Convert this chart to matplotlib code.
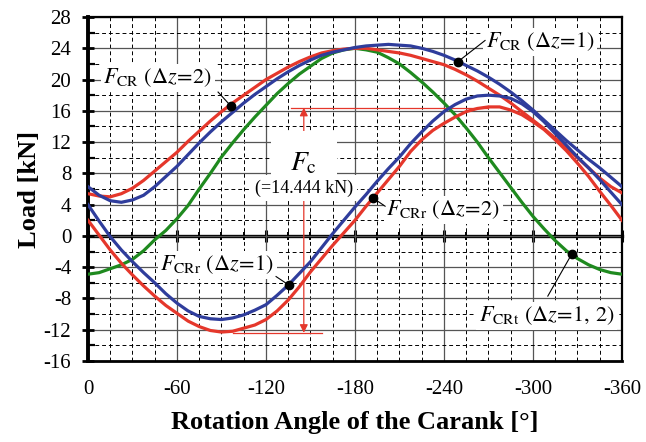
import matplotlib
matplotlib.use("Agg")
import matplotlib.pyplot as plt
from matplotlib.ticker import MultipleLocator

plt.rcParams["font.family"] = ["Liberation Serif", "DejaVu Serif"]
plt.rcParams["mathtext.fontset"] = "stix"
plt.rcParams["axes.unicode_minus"] = False

# crank angle [deg], sampled every 7.5 deg
angle = [0, -7.5, -15, -22.5, -30, -37.5, -45, -52.5, -60, -67.5, -75, -82.5,
         -90, -97.5, -105, -112.5, -120, -127.5, -135, -142.5, -150, -157.5, -165, -172.5,
         -180, -187.5, -195, -202.5, -210, -217.5, -225, -232.5, -240, -247.5, -255, -262.5,
         -270, -277.5, -285, -292.5, -300, -307.5, -315, -322.5, -330, -337.5, -345, -352.5,
         -360]

# resultant load on the crank, dz = 2 (red) and dz = 1 (blue)
f_cr_dz2 = [5.4, 5.1, 5.0, 5.4, 6.1, 7.1, 8.3, 9.5, 10.7, 12.1, 13.4, 14.7,
            15.9, 17.0, 18.0, 19.0, 20.0, 20.8, 21.6, 22.3, 22.9, 23.4, 23.7, 23.9,
            24.0, 24.0, 23.8, 23.6, 23.4, 23.1, 22.7, 22.3, 21.9, 21.3, 20.6, 19.8,
            18.9, 18.0, 17.0, 15.9, 14.8, 13.7, 12.5, 11.3, 10.0, 8.7, 7.4, 6.3,
            5.5]
f_cr_dz1 = [6.3, 5.2, 4.5, 4.3, 4.6, 5.2, 6.3, 7.6, 8.9, 10.4, 11.9, 13.3,
            14.6, 15.8, 17.0, 18.1, 19.1, 20.1, 21.0, 21.8, 22.5, 23.1, 23.5, 23.8,
            24.1, 24.3, 24.4, 24.5, 24.4, 24.3, 24.0, 23.6, 23.1, 22.5, 21.8, 21.1,
            20.3, 19.4, 18.4, 17.3, 16.1, 14.8, 13.5, 12.2, 11.0, 9.8, 8.7, 7.5,
            6.3]

# radial component
f_crr_dz2 = [2.0, 0.1, -1.8, -3.5, -5.0, -6.4, -7.7, -8.9, -9.9, -10.9, -11.6, -12.1,
             -12.3, -12.2, -11.8, -11.4, -10.7, -9.6, -8.2, -6.5, -4.6, -2.9, -1.2, 0.4,
             2.0, 3.8, 5.5, 7.2, 8.9, 10.8, 12.3, 13.5, 14.4, 15.2, 15.9, 16.3,
             16.5, 16.5, 16.1, 15.5, 14.6, 13.6, 12.3, 10.9, 9.3, 7.6, 5.7, 3.9,
             2.0]
f_crr_dz1 = [4.0, 1.9, -0.1, -1.8, -3.3, -4.7, -6.0, -7.4, -8.6, -9.6, -10.3, -10.6,
             -10.7, -10.5, -10.1, -9.5, -8.8, -7.6, -6.3, -4.8, -3.3, -1.5, 0.3, 2.0,
             3.7, 5.3, 7.0, 8.6, 10.1, 11.8, 13.3, 14.7, 15.9, 16.8, 17.5, 17.9,
             18.0, 17.9, 17.6, 16.9, 15.9, 14.6, 13.1, 11.6, 10.1, 8.7, 7.2, 5.6,
             4.0]

# tangential component (same for both dz)
f_crt = [-4.9, -4.7, -4.2, -3.7, -3.0, -1.9, -0.5, 0.7, 2.2, 3.9, 6.0, 8.0,
         10.1, 11.9, 13.6, 15.2, 16.7, 18.2, 19.5, 20.7, 21.7, 22.7, 23.4, 23.8,
         24.0, 23.8, 23.5, 22.8, 22.0, 20.9, 19.7, 18.4, 17.0, 15.5, 13.8, 12.0,
         10.0, 8.1, 6.2, 4.3, 2.5, 0.9, -0.6, -1.9, -2.9, -3.7, -4.3, -4.7,
         -4.9]

# F_c span: from radial minimum to radial maximum
fc_angle = -145.5
fc_low, fc_high = -12.4, 16.4

RED = "#e5372b"
BLUE = "#2f3d9c"
GREEN = "#1f8a1f"

fig = plt.figure(figsize=(6.46, 4.42), dpi=100)
ax = fig.add_axes([0.1362, 0.1833, 0.8266, 0.7782])

ax.set_xlim(0, -360)
ax.set_ylim(-16, 28)
ax.xaxis.set_major_locator(MultipleLocator(60))
ax.xaxis.set_minor_locator(MultipleLocator(15))
ax.yaxis.set_major_locator(MultipleLocator(4))
ax.yaxis.set_minor_locator(MultipleLocator(2))

ax.grid(which="major", color="#555555", lw=0.9, ls="-", zorder=0)
ax.grid(which="minor", color="black", lw=0.7, ls=(0, (4, 3)), zorder=0)
ax.set_axisbelow(True)

ax.tick_params(axis="x", which="both", length=0, pad=14, labelsize=15)
ax.tick_params(axis="y", which="major", direction="inout", length=8, width=2,
               labelsize=15, pad=8)
ax.tick_params(axis="y", which="minor", direction="in", length=5, width=1.6)

ax.spines["left"].set_linewidth(2.8)
ax.spines["bottom"].set_linewidth(2.0)
ax.spines["top"].set_linewidth(1.6)
ax.spines["right"].set_linewidth(1.6)

# thick zero line with its own ticks
zero = ax.secondary_xaxis(16 / 44)
zero.spines["bottom"].set_linewidth(2.4)
zero.xaxis.set_major_locator(MultipleLocator(60))
zero.xaxis.set_minor_locator(MultipleLocator(15))
zero.tick_params(which="major", direction="inout", length=9, width=2.2, labelbottom=False)
zero.tick_params(which="minor", direction="inout", length=6, width=1.4)

lw = 2.3
ax.plot(angle, f_crt, color=GREEN, lw=lw, zorder=3)
ax.plot(angle, f_cr_dz2, color=RED, lw=lw, zorder=3)
ax.plot(angle, f_crr_dz2, color=RED, lw=lw, zorder=3)
ax.plot(angle, f_cr_dz1, color=BLUE, lw=lw, zorder=4)
ax.plot(angle, f_crr_dz1, color=BLUE, lw=lw, zorder=4)

# F_c dimension
ax.plot([-137, -270], [fc_high, fc_high], color=RED, lw=0.9, zorder=2)
ax.plot([-98, -158], [fc_low, fc_low], color=RED, lw=0.9, zorder=2)
ax.annotate("", xy=(fc_angle, fc_high), xytext=(fc_angle, fc_low),
            arrowprops=dict(arrowstyle="<|-|>", color=RED, lw=0.9,
                            mutation_scale=12, shrinkA=0, shrinkB=0), zorder=2)
box = dict(facecolor="white", edgecolor="none", pad=2)
ax.text(fc_angle, 9.3, r"$F_{\mathrm{c}}$", fontsize=20, ha="center", va="center",
        bbox=dict(facecolor="white", edgecolor="none", pad=14), zorder=5)
ax.text(fc_angle, 6.1, "(=14.444 kN)", fontsize=13, ha="center", va="center",
        bbox=dict(facecolor="white", edgecolor="none", pad=3), zorder=6)

labels = [
    (r"$F_{\mathrm{CR}}\ (\Delta z\!=\!2)$", (-47, 20.2), (-87.7, 18.4), (-96.4, 16.6)),
    (r"$F_{\mathrm{CR}}\ (\Delta z\!=\!1)$", (-304.8, 24.8), (-267.7, 25.0), (-249.5, 22.3)),
    (r"$F_{\mathrm{CRr}}\ (\Delta z\!=\!2)$", (-239.4, 3.3), (-200.3, 3.8), (-192.2, 4.85)),
    (r"$F_{\mathrm{CRr}}\ (\Delta z\!=\!1)$", (-87, -3.7), (-126.8, -5.2), (-135.5, -6.3)),
    (r"$F_{\mathrm{CRt}}\ (\Delta z\!=\!1,\,2)$", (-309, -10.2), (-310, -7.7), (-326.2, -2.3)),
]
for text, pos, lead, dot in labels:
    ax.text(pos[0], pos[1], text, fontsize=16, ha="center", va="center",
            bbox=box, zorder=6)
    ax.plot([lead[0], dot[0]], [lead[1], dot[1]], color="black", lw=0.8, zorder=6)
    ax.plot(dot[0], dot[1], "o", color="black", ms=6, zorder=7)

ax.set_xlabel("Rotation Angle of the Carank [°]", fontsize=19, fontweight="bold", labelpad=8)
ax.set_ylabel("Load [kN]", fontsize=19, fontweight="bold", labelpad=2)

fig.savefig("out.png", dpi=100)
